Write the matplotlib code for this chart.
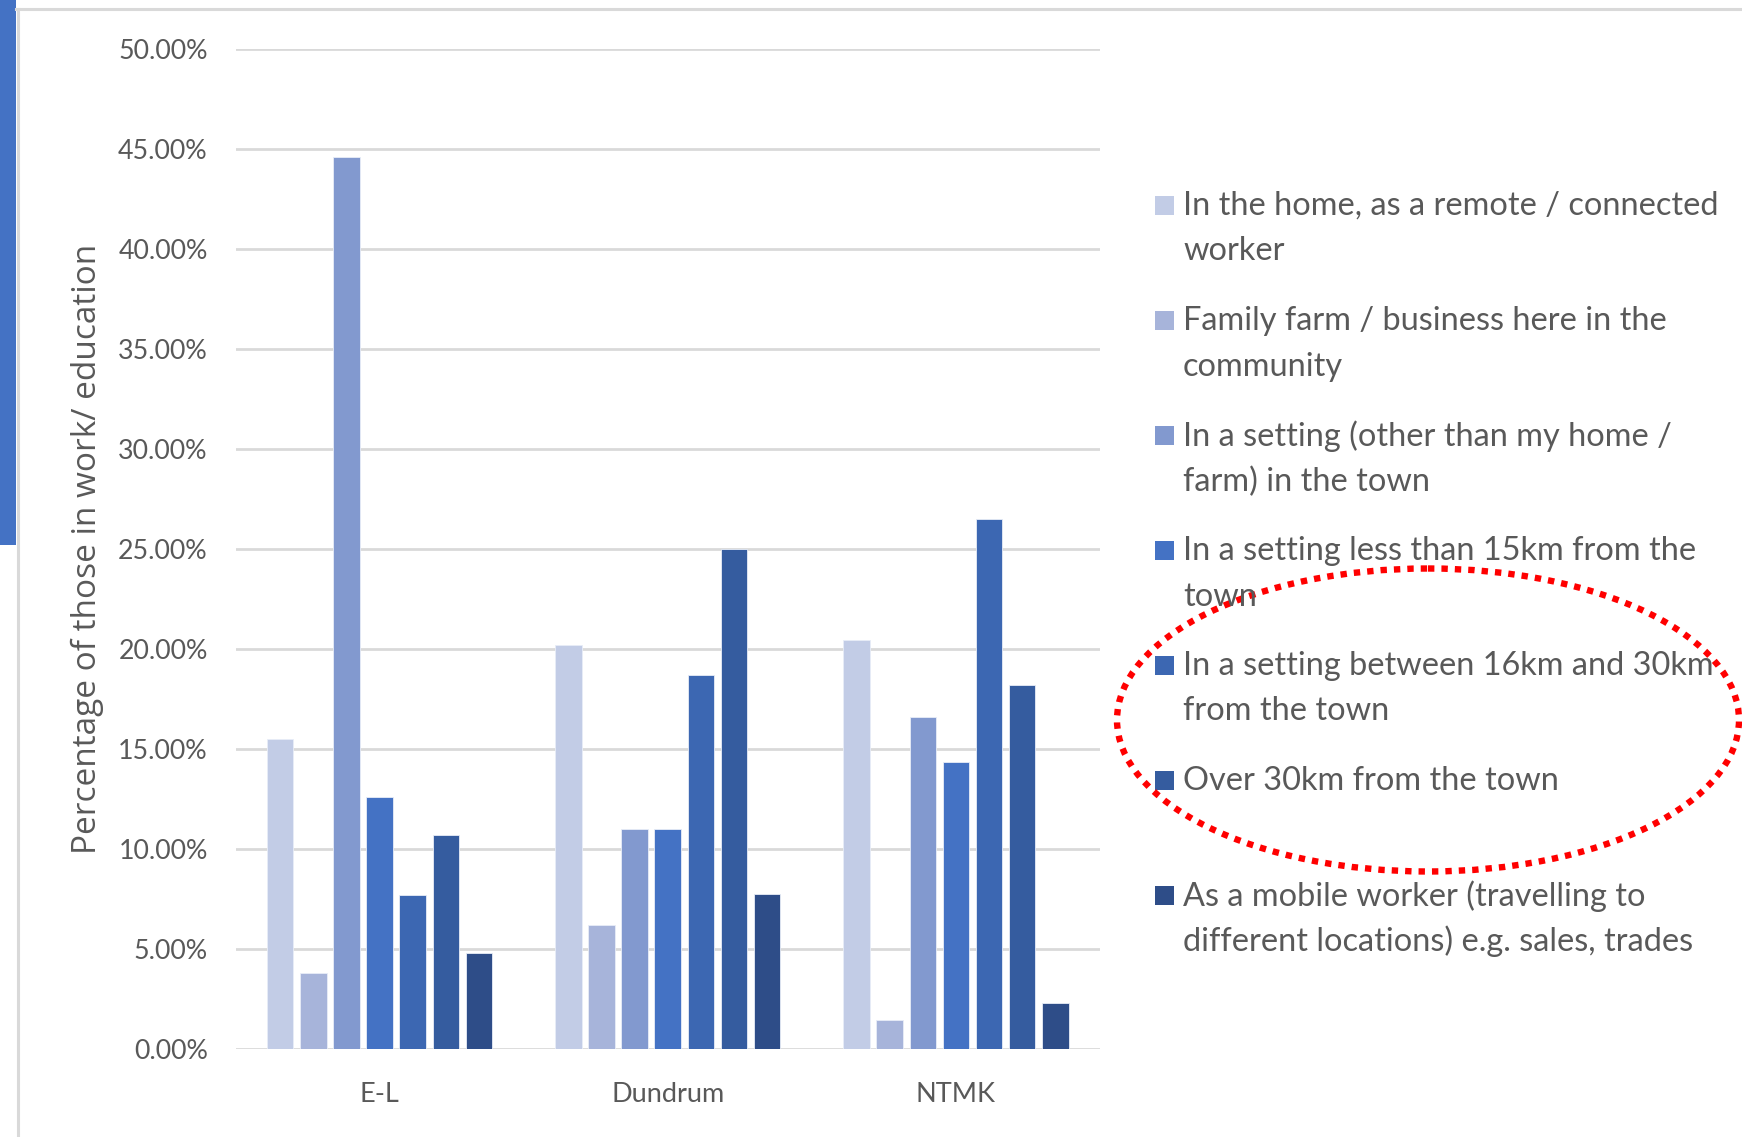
#!/usr/bin/env python
'''
Where those in work/education are based, grouped by town.
Saves out.png (1742x1137).
'''
import matplotlib as mpl
mpl.use('Agg')
import matplotlib.pyplot as plt
from matplotlib.patches import Ellipse, Rectangle
from matplotlib.ticker import MultipleLocator, PercentFormatter
import numpy as np

W, H, DPI = 1742, 1137, 100
GREY_TXT = '#595959'
GRID = '#D9D9D9'
TICK_FONT = 'Lato'
LABEL_FONT = 'Open Sans'

# data (percent of those in work / education)
TOWNS = ['E-L', 'Dundrum', 'NTMK']
SERIES = ['In the home, as a remote / connected\nworker',
          'Family farm / business here in the\ncommunity',
          'In a setting (other than my home /\nfarm) in the town',
          'In a setting less than 15km from the\ntown',
          'In a setting between 16km and 30km\nfrom the town',
          'Over 30km from the town',
          'As a mobile worker (travelling to\ndifferent locations) e.g. sales, trades']
HOME = [15.5, 20.2, 20.45]
FARM = [3.8, 6.2, 1.45]
IN_TOWN = [44.6, 11.0, 16.6]
LESS_15KM = [12.6, 11.0, 14.35]
KM_16_30 = [7.7, 18.7, 26.5]
OVER_30KM = [10.7, 25.0, 18.2]
MOBILE = [4.8, 7.75, 2.3]
COLORS = ['#C2CCE6', '#A7B4DA', '#8299CF', '#4472C4', '#3C67B2', '#355C9F', '#2E4D88']

PITCH, BARW = 0.115, 0.092


def plot():
    values = [HOME, FARM, IN_TOWN, LESS_15KM, KM_16_30, OVER_30KM, MOBILE]
    fig = plt.figure(figsize=(W / DPI, H / DPI), dpi=DPI)
    ax = fig.add_axes([235.5 / W, 1 - 1048.8 / H, (1100 - 235.5) / W, (1048.8 - 48.9) / H])

    x = np.arange(len(TOWNS))
    n = len(values)
    for i, (vals, c) in enumerate(zip(values, COLORS)):
        ax.bar(x + (i - (n - 1) / 2) * PITCH, vals, width=BARW, color=c,
               edgecolor='#E8EDF7', linewidth=0.6, zorder=3)

    ax.set_xlim(-0.5, len(TOWNS) - 0.5)
    ax.set_ylim(0, 50)
    ax.yaxis.set_major_locator(MultipleLocator(5))
    ax.yaxis.set_major_formatter(PercentFormatter(xmax=100, decimals=2))
    ax.grid(axis='y', color=GRID, linewidth=2, zorder=0)
    ax.set_axisbelow(True)
    for s in ax.spines.values():
        s.set_visible(False)
    ax.set_xticks(x)
    ax.set_xticklabels(TOWNS)
    ax.tick_params(length=0)
    ax.tick_params(axis='y', pad=20, labelsize=19.3, labelcolor=GREY_TXT)
    ax.tick_params(axis='x', pad=24, labelsize=19.5, labelcolor=GREY_TXT)
    for t in ax.get_xticklabels() + ax.get_yticklabels():
        t.set_fontfamily(TICK_FONT)

    fig.text(87 / W, 1 - 549 / H, 'Percentage of those in work/ education',
             rotation=90, ha='center', va='center', fontsize=24,
             family=LABEL_FONT, color=GREY_TXT)

    # overlay in pixel coordinates for frame, legend and annotation
    ov = fig.add_axes([0, 0, 1, 1], facecolor='none')
    ov.set_xlim(0, W)
    ov.set_ylim(H, 0)
    ov.axis('off')
    ov.add_patch(Rectangle((0, 0), 16, 545, color='#4472C4', lw=0))
    ov.plot([16, W], [9, 9], color=GRID, lw=2.2)
    ov.plot([18, 18], [9, H], color=GRID, lw=2.2)

    y0, step, lstep = 206, 115, 45.5
    for i, (lab, c) in enumerate(zip(SERIES, COLORS)):
        yy = y0 + i * step
        ov.add_patch(Rectangle((1155, yy - 10), 19, 19, color=c, lw=0))
        for j, line in enumerate(lab.split('\n')):
            ov.text(1183, yy + j * lstep, line, ha='left', va='center',
                    fontsize=23.4, family=TICK_FONT, color=GREY_TXT)

    ov.add_patch(Ellipse((1428, 720), 622, 303, fill=False, edgecolor='#FF0000',
                         lw=4.6, linestyle=(0, (1, 1.1))))

    fig.savefig('out.png', dpi=DPI)


if __name__ == '__main__':
    plot()
